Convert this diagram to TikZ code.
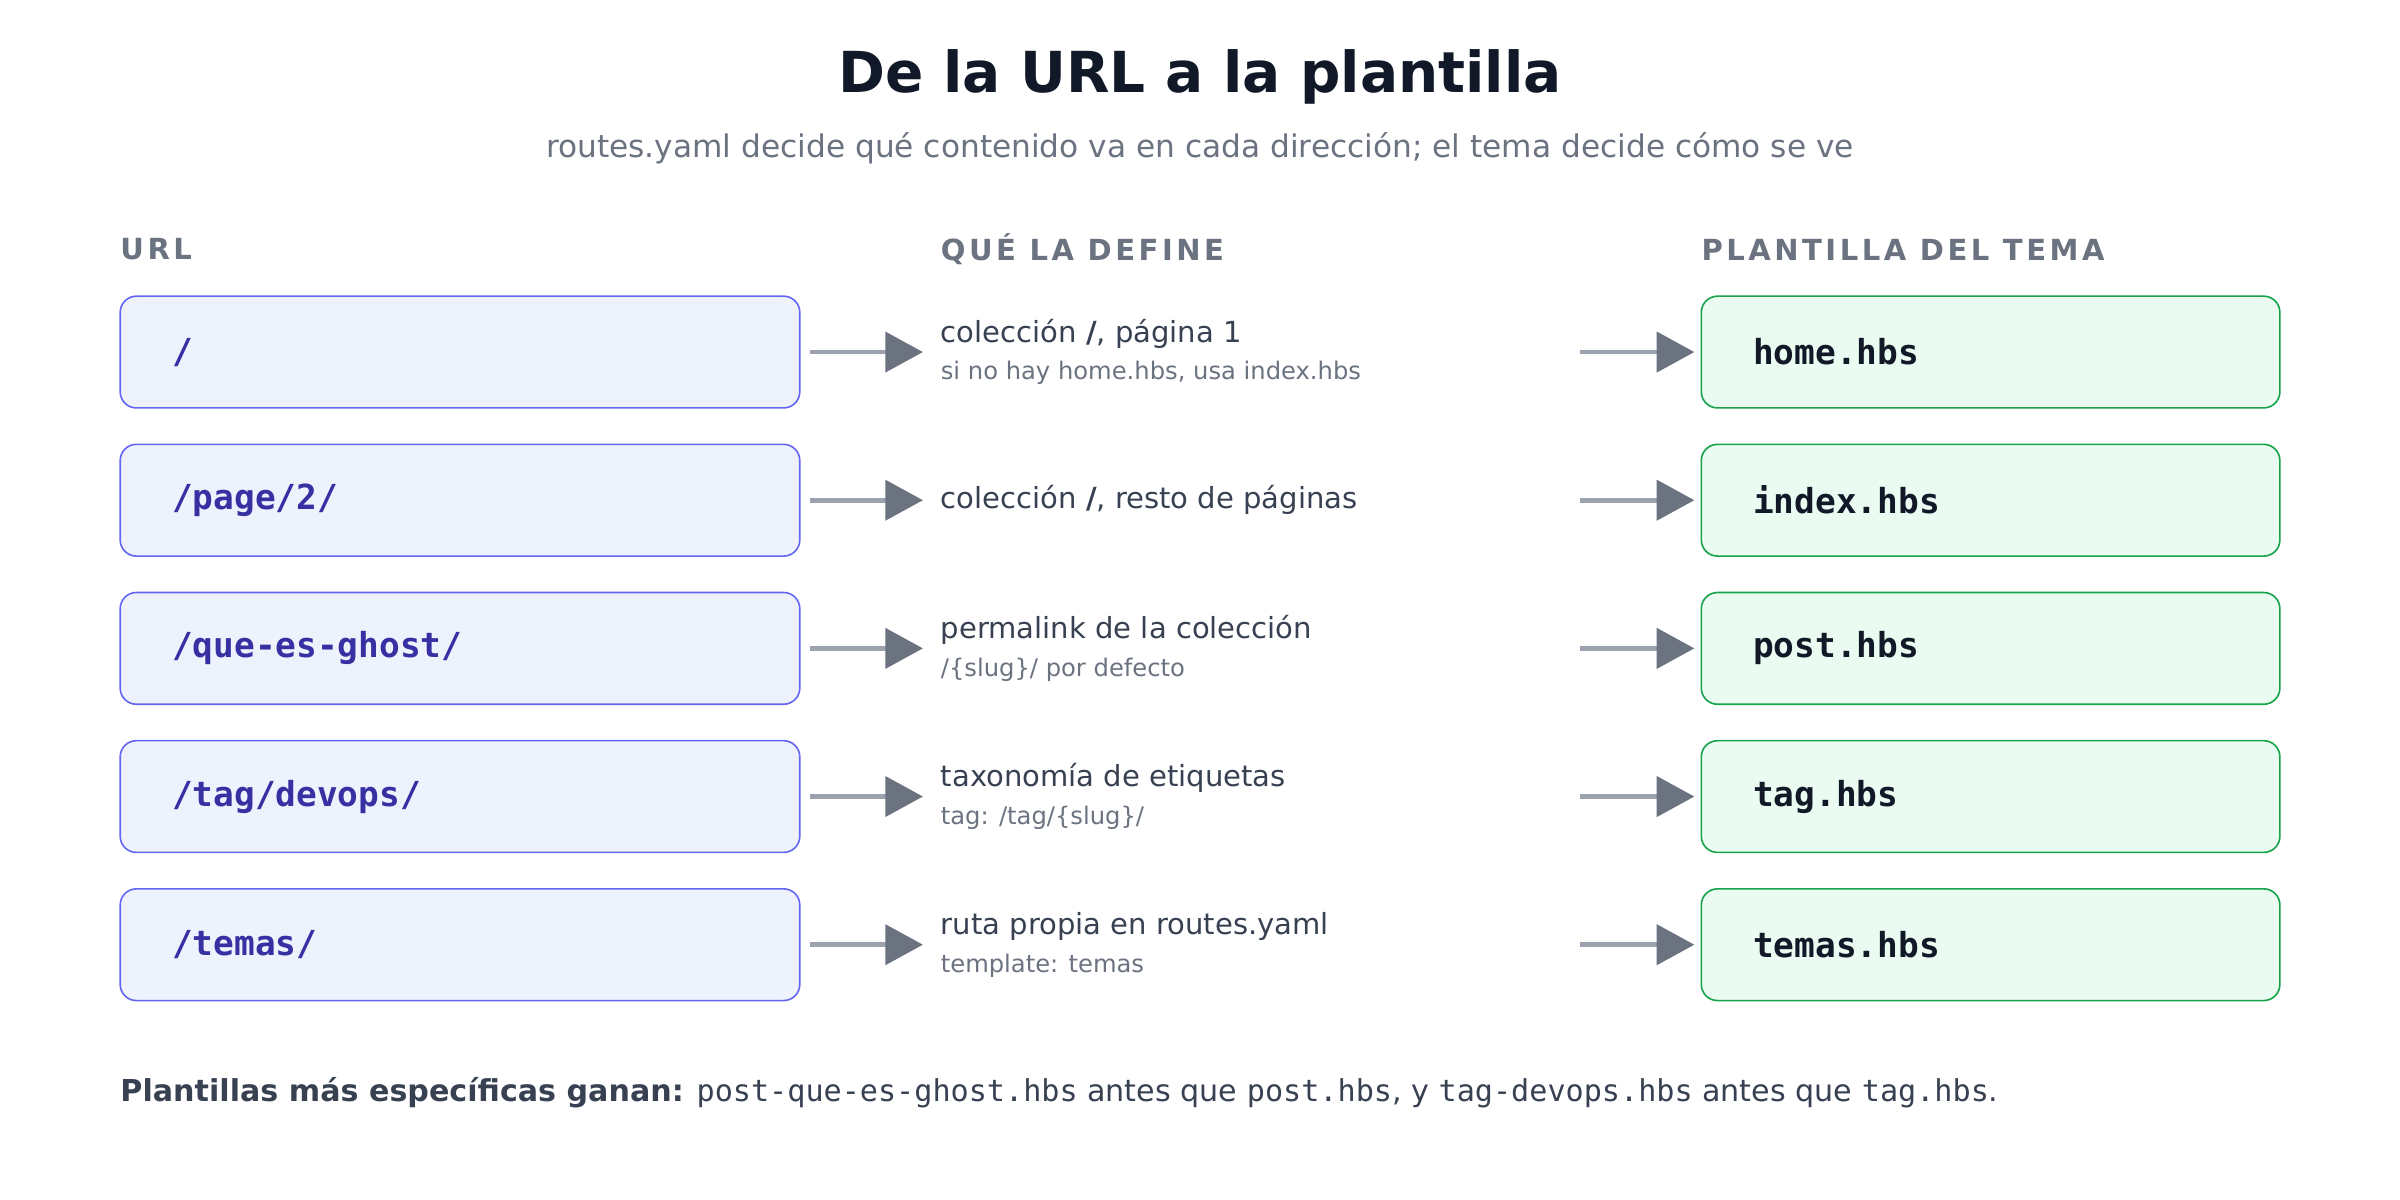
\documentclass[tikz,border=0pt]{standalone}
\usepackage{fontspec}
\setmainfont{DejaVu Sans}
\setmonofont{DejaVu Sans Mono}
\usetikzlibrary{arrows.meta,positioning}
\definecolor{urlfill}{HTML}{EEF2FD}
\definecolor{urldraw}{HTML}{6366F1}
\definecolor{urltext}{HTML}{3730A3}
\definecolor{tplfill}{HTML}{EAFBF1}
\definecolor{tpldraw}{HTML}{16A34A}
\definecolor{darktext}{HTML}{111827}
\definecolor{bodytext}{HTML}{374151}
\definecolor{mutedtext}{HTML}{6B7280}
\definecolor{arrowline}{HTML}{9CA3AF}
\definecolor{arrowhead}{HTML}{6B7280}
\tikzset{
  urlbox/.style={draw=urldraw, fill=urlfill, rounded corners=3pt, line width=0.3pt, minimum width=444*0.01cm, minimum height=73*0.01cm, anchor=west},
  tplbox/.style={draw=tpldraw, fill=tplfill, rounded corners=3pt, line width=0.3pt, minimum width=378*0.01cm, minimum height=73*0.01cm, anchor=west},
  header/.style={anchor=west, text=mutedtext, font=\fontsize{5.4}{6}\selectfont\bfseries\addfontfeature{LetterSpace=12}},
  deftext/.style={anchor=west, inner sep=0pt, align=left, text=bodytext, font=\fontsize{5.4}{8}\selectfont},
  flow/.style={draw=arrowline, line width=0.9pt, -{Triangle[length=7pt,width=7.4pt,color=arrowhead]}},
}
\newcommand{\smalltxt}[1]{{\fontsize{4.5}{6}\selectfont\color{mutedtext}#1}}
\begin{document}
\begin{tikzpicture}[x=0.01cm, y=-0.01cm]
\useasboundingbox (0,0) rectangle (1568,784);
% title
\node[font=\fontsize{10.5}{12}\selectfont\bfseries, text=darktext] (title) at (784,50) {De la URL a la plantilla};
\node[font=\fontsize{5.8}{7}\selectfont, text=mutedtext] (subtitle) at (784,97) {routes.yaml decide qué contenido va en cada dirección; el tema decide cómo se ve};
% headers
\node[header, inner sep=0pt] (hurl) at (78,163) {URL};
\node[header, inner sep=0pt] (hdef) at (614,163) {QUÉ LA DEFINE};
\node[header, inner sep=0pt] (htpl) at (1111,163) {PLANTILLA DEL TEMA};
% rows
\foreach \i/\urltxt/\deftxt/\tpltxt in {
  1/{/}/{colección \textbf{/}, página 1\\[-1pt]\smalltxt{si no hay home.hbs, usa index.hbs}}/home.hbs,
  2/{/page/2/}/{colección \textbf{/}, resto de páginas}/index.hbs,
  3/{/que-es-ghost/}/{permalink de la colección\\[-1pt]\smalltxt{/\{slug\}/ por defecto}}/post.hbs,
  4/{/tag/devops/}/{taxonomía de etiquetas\\[-1pt]\smalltxt{tag: /tag/\{slug\}/}}/tag.hbs,
  5/{/temas/}/{ruta propia en routes.yaml\\[-1pt]\smalltxt{template: temas}}/temas.hbs} {
  \pgfmathsetmacro{\y}{230+96.8*(\i-1)}
  \node[urlbox] (url\i) at (78,\y) {};
  \node[anchor=west, text=urltext, font=\fontsize{6.4}{7}\selectfont\ttfamily\bfseries] at (100,\y) {\urltxt};
  \node[deftext] (def\i) at (614,\y) {\deftxt};
  \node[tplbox] (tpl\i) at (1111,\y) {};
  \node[anchor=west, text=darktext, font=\fontsize{6.4}{7}\selectfont\ttfamily\bfseries] at (1133,\y) {\tpltxt};
  \coordinate (out\i) at (1032,\y);
  \draw[flow, shorten <=6*0.01cm, shorten >=11*0.01cm] (url\i.east) -- (def\i.west);
  \draw[flow, shorten >=4*0.01cm] (out\i) -- (tpl\i.west);
}
% footer
\node[anchor=west, inner sep=0pt, text=bodytext, font=\fontsize{5.6}{7}\selectfont] (footer) at (78,714)
  {\textbf{Plantillas más específicas ganan:} \texttt{post-que-es-ghost.hbs} antes que \texttt{post.hbs}, y \texttt{tag-devops.hbs} antes que \texttt{tag.hbs}.};
\end{tikzpicture}
\end{document}
